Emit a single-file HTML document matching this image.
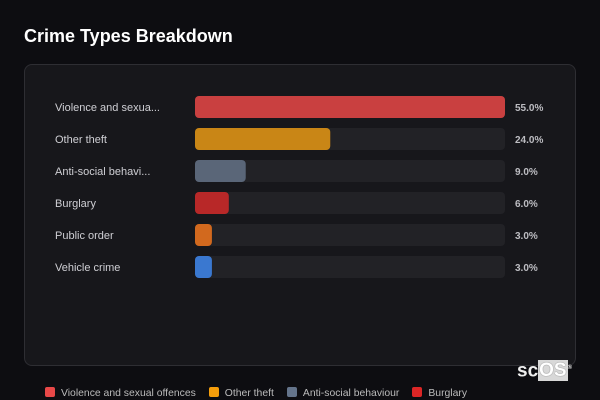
<!DOCTYPE html>
<html><head><meta charset="utf-8"><style>
body{margin:0;width:600px;height:400px;background:#0d0d11;font-family:"Liberation Sans",sans-serif;overflow:hidden;position:relative}
.title{position:absolute;left:24px;top:26px;color:#fff;font-size:18px;font-weight:bold}
.card{position:absolute;left:24px;top:64px;width:550px;height:300px;background:#17171b;border:1px solid #2e2e33;border-radius:8px}
.leg{position:absolute;top:387px;left:45px;display:flex;gap:13px;font-size:10.4px;color:#bbb;white-space:nowrap}
.leg span.sw{display:inline-block;width:10px;height:10px;border-radius:2px;margin-right:6px;vertical-align:-1px}
.logo{position:absolute;left:517px;top:358px;font-size:19px;font-weight:bold;color:#eee;line-height:20px}
.logo b{background:#d8d8d8;color:#fff;padding:0 1px;text-shadow:0 0 1px #555}
</style></head><body>
<div class="title">Crime Types Breakdown</div>
<div class="card"></div>
<svg id="chart" width="600" height="400" style="position:absolute;left:0;top:0"></svg>
<div class="logo">sc<b>OS</b><sup style="font-size:6px">®</sup></div>
<div class="leg">
<div><span class="sw" style="background:#e84848"></span>Violence and sexual offences</div>
<div><span class="sw" style="background:#f59e0b"></span>Other theft</div>
<div><span class="sw" style="background:#64748b"></span>Anti-social behaviour</div>
<div><span class="sw" style="background:#dc2626"></span>Burglary</div>
</div>
<script>
const categories=["Violence and sexua...","Other theft","Anti-social behavi...","Burglary","Public order","Vehicle crime"];
const values=[55,24,9,6,3,3];
const colors=["#c94040","#c98616","#5a6678","#b82828","#d2691e","#3a78d0"];
const NS="http://www.w3.org/2000/svg";
const svg=document.getElementById('chart');
const x0=195,trackW=310,y0=96,step=32,bh=22;
const maxV=Math.max(...values);
const xs=v=>v/maxV*trackW;
const ys=i=>y0+i*step;
function mk(t,a){const e=document.createElementNS(NS,t);for(const k in a)e.setAttribute(k,a[k]);svg.appendChild(e);return e;}
categories.forEach((c,i)=>{
 const y=ys(i);
 const lab=mk('text',{x:55,y:y+15,fill:'#cfcfd4','font-size':11,'font-family':'Liberation Sans, sans-serif'});
 lab.textContent=c;
 
 
 const tr=mk('rect',{x:x0,y:y,width:trackW,height:bh,rx:4,fill:'#222226'});
 
 
 const b=mk('rect',{x:x0,y:y,width:xs(values[i]),height:bh,rx:4,fill:colors[i]});
 
 
 const v=mk('text',{x:515,y:y+15,fill:'#bdbdc2','font-size':10,'font-weight':'bold','font-family':'Liberation Sans, sans-serif'});
 v.textContent=values[i].toFixed(1)+'%';
 
 
});
</script>
</body></html>
